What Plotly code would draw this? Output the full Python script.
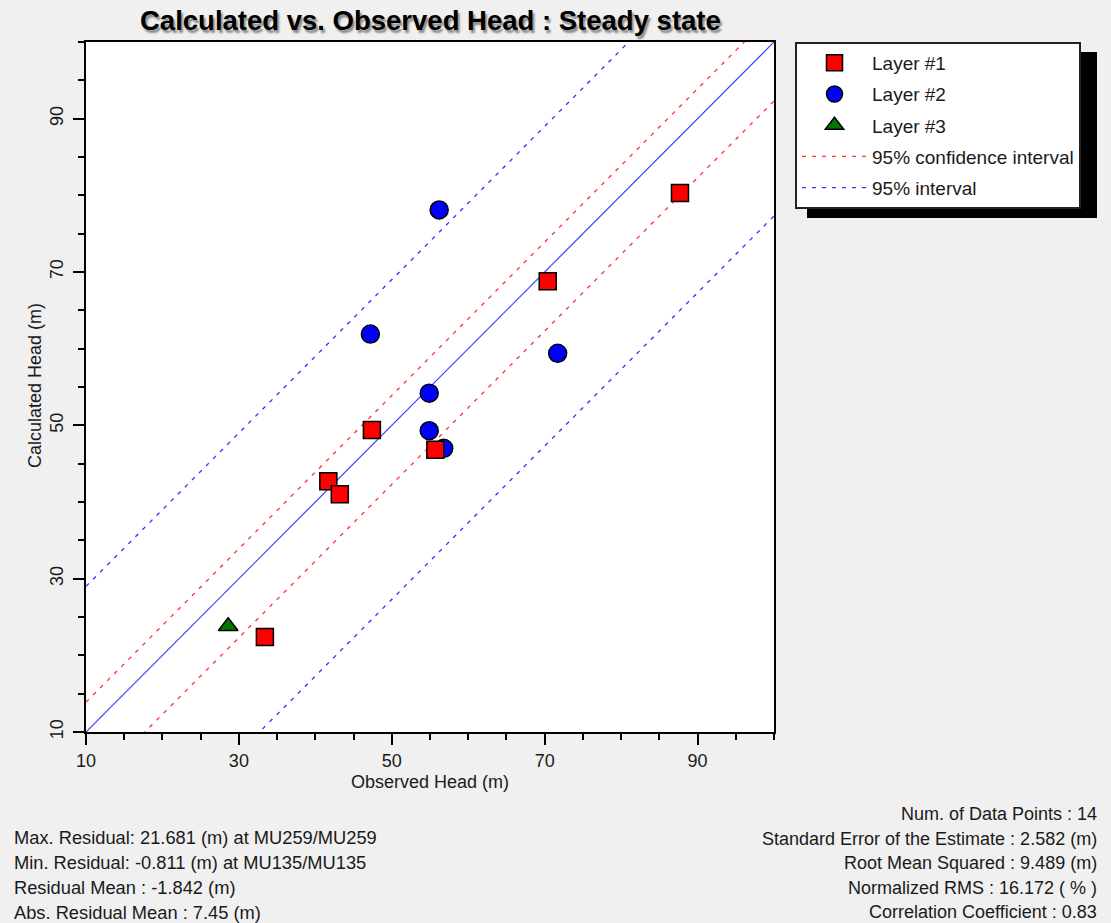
import plotly.graph_objects as go

# ---------------- data ----------------
layer1_obs = [33.4, 41.7, 43.2, 47.4, 55.7, 70.4, 87.7]
layer1_calc = [22.4, 42.7, 41.0, 49.4, 46.8, 68.8, 80.3]
layer2_obs = [56.2, 47.2, 54.9, 54.9, 56.8, 71.7]
layer2_calc = [78.1, 61.9, 54.2, 49.3, 47.0, 59.4]
layer3_obs = [28.6]
layer3_calc = [23.8]

axis_range = [10, 100]
conf_offsets = [3.9, -7.7]        # 95% confidence interval lines (calc = obs + offset)
interval_offsets = [19.0, -22.7]  # 95% interval lines

left_stats = [
    "Max. Residual: 21.681 (m) at MU259/MU259",
    "Min. Residual: -0.811 (m) at MU135/MU135",
    "Residual Mean : -1.842 (m)",
    "Abs. Residual Mean : 7.45 (m)",
]
right_stats = [
    "Num. of Data Points : 14",
    "Standard Error of the Estimate : 2.582 (m)",
    "Root Mean Squared : 9.489 (m)",
    "Normalized RMS : 16.172 ( % )",
    "Correlation Coefficient : 0.83",
]

# ---------------- layout helpers ----------------
W, H = 1111, 923
PL, PR, PT, PB = 86, 774, 42, 732


def px_x(p):
    return (p - PL) / (PR - PL)


def px_y(p):
    return (PB - p) / (PB - PT)


FONT = "Liberation Sans, Arial, sans-serif"
TXT = "#1a1a1a"


def offset_lines(offsets):
    xs, ys = [], []
    for off in offsets:
        xs += [axis_range[0], axis_range[1], None]
        ys += [axis_range[0] + off, axis_range[1] + off, None]
    return xs, ys


fig = go.Figure()

# 1:1 line
fig.add_trace(go.Scatter(x=axis_range, y=axis_range, mode="lines",
                         line=dict(color="#3c3cff", width=1.2),
                         showlegend=False, hoverinfo="skip"))

cx, cy = offset_lines(conf_offsets)
fig.add_trace(go.Scatter(x=cx, y=cy, mode="lines", name="95% confidence interval",
                         line=dict(color="#ff3030", width=1.3, dash="4px,6px"),
                         legendgroup="g4", legendrank=4))
ix, iy = offset_lines(interval_offsets)
fig.add_trace(go.Scatter(x=ix, y=iy, mode="lines", name="95% interval",
                         line=dict(color="#3030ff", width=1.3, dash="4px,6px"),
                         legendgroup="g5", legendrank=5))

fig.add_trace(go.Scatter(x=layer3_obs, y=layer3_calc, mode="markers", name="Layer #3",
                         marker=dict(symbol="triangle-up", size=17, color="#007800",
                                     line=dict(color="black", width=1.5)),
                         legendgroup="g3", legendrank=3))
fig.add_trace(go.Scatter(x=layer2_obs, y=layer2_calc, mode="markers", name="Layer #2",
                         marker=dict(symbol="circle", size=18, color="#0000ff",
                                     line=dict(color="black", width=1.5)),
                         legendgroup="g2", legendrank=2))
fig.add_trace(go.Scatter(x=layer1_obs, y=layer1_calc, mode="markers", name="Layer #1",
                         marker=dict(symbol="square", size=17, color="#ff0000",
                                     line=dict(color="black", width=1.5)),
                         legendgroup="g1", legendrank=1))

axis_common = dict(
    range=axis_range, tick0=10, dtick=20, ticks="outside", ticklen=11, tickwidth=2,
    tickcolor="black", showgrid=False, zeroline=False, showline=True,
    linecolor="black", linewidth=2, mirror=True,
    tickfont=dict(family=FONT, size=18, color=TXT),
    minor=dict(dtick=5, tick0=10, ticks="outside", ticklen=6, tickwidth=2,
               tickcolor="black", showgrid=False),
)

fig.update_layout(
    width=W, height=H,
    margin=dict(l=PL, r=W - PR, t=PT, b=H - PB, pad=0),
    paper_bgcolor="#f0f0f0", plot_bgcolor="white",
    xaxis=dict(**axis_common),
    yaxis=dict(**axis_common, tickangle=-90, ticklabelstandoff=3),
    showlegend=True,
    legend=dict(x=px_x(795), y=px_y(42), xanchor="left", yanchor="top",
                bgcolor="white", bordercolor="#222222", borderwidth=2,
                font=dict(family=FONT, size=19, color=TXT),
                tracegroupgap=3.5, itemwidth=65, traceorder="grouped"),
)

# legend shadow
fig.add_shape(type="rect", xref="paper", yref="paper",
              x0=px_x(807), x1=px_x(1097), y0=px_y(218), y1=px_y(52),
              fillcolor="black", line=dict(width=0), layer="above")

annotations = []
# title with drop shadow
title = "Calculated vs. Observed Head : Steady state"
annotations.append(dict(text="<b>" + title + "</b>", x=0.5, y=px_y(21),
                        xref="paper", yref="paper", showarrow=False,
                        xanchor="center", yanchor="middle",
                        font=dict(family=FONT, size=27.5, color="black",
                                  shadow="2px 3px 2px #8a8a8a")))
# axis titles
annotations.append(dict(text="Observed Head (m)", x=0.5, y=px_y(782), xref="paper",
                        yref="paper", showarrow=False, xanchor="center", yanchor="middle",
                        font=dict(family=FONT, size=18, color=TXT)))
annotations.append(dict(text="Calculated Head (m)", x=px_x(35), y=px_y(385), xref="paper",
                        yref="paper", showarrow=False, xanchor="center", yanchor="middle",
                        textangle=-90, font=dict(family=FONT, size=18, color=TXT)))
# stats
for i, s in enumerate(left_stats):
    annotations.append(dict(text=s, x=px_x(12), y=px_y(837 + 25 * i), xref="paper",
                            yref="paper", showarrow=False, xanchor="left", yanchor="middle",
                            font=dict(family=FONT, size=18.3, color=TXT)))
for i, s in enumerate(right_stats):
    annotations.append(dict(text=s, x=px_x(1099), y=px_y(814 + 24.5 * i), xref="paper",
                            yref="paper", showarrow=False, xanchor="right", yanchor="middle",
                            font=dict(family=FONT, size=18, color=TXT)))
fig.update_layout(annotations=annotations)

fig.write_html("out.html")
